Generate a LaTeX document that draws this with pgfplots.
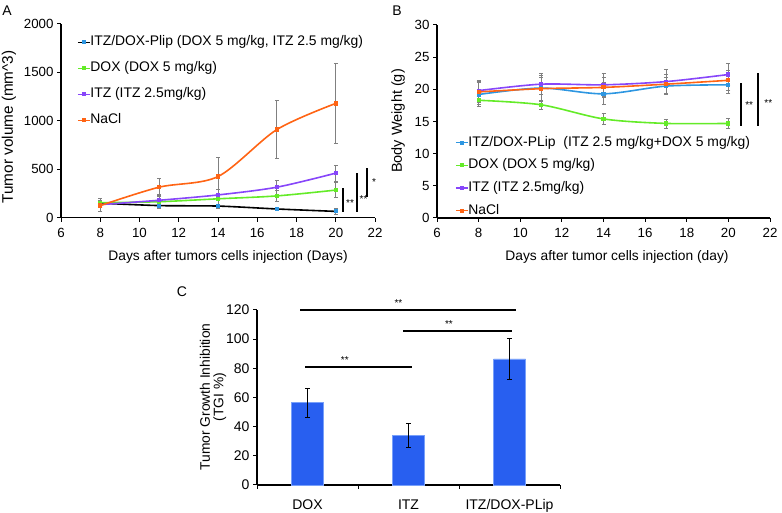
\documentclass[border=0pt]{standalone}
\usepackage{fontspec}
\setmainfont{Liberation Sans}
\usepackage{pgfplots}
\pgfplotsset{compat=1.18}
\definecolor{cOr}{RGB}{255,100,20}
\definecolor{cGr}{RGB}{100,235,40}
\definecolor{cPu}{RGB}{135,70,250}
\definecolor{cBl}{RGB}{45,150,225}
\definecolor{cBar}{RGB}{40,95,240}
\definecolor{cBarE}{RGB}{120,160,250}

\tikzset{sig/.style={line width=2.8pt, black}}
\pgfplotsset{
 base/.style={scale only axis, axis lines*=left, axis line style={line width=1.2pt},
   tick style={black, line width=1pt}, tick align=outside, major tick length=4pt,
   /pgf/number format/assume math mode=true,
   /pgf/number format/1000 sep={},
   ticklabel style={font=\fontsize{13.3}{15}\selectfont},
   xticklabel style={yshift=-3pt},
   clip=false},
 ser/.style={smooth, line width=1.6pt, mark=square*, mark size=1.3pt,
   error bars/y dir=both, error bars/y explicit,
   error bars/error bar style={gray, line width=0.8pt, solid},
   error bars/error mark options={gray, rotate=90, mark size=2pt, line width=0.8pt}},
 leg/.style={legend cell align=left,
   legend image code/.code={\draw[mark repeat=2, mark phase=2, line width=1.2pt, ##1] plot coordinates {(0pt,0pt) (6pt,0pt) (12pt,0pt)};},
   legend style={draw=none, fill=none, inner sep=0pt, font=\fontsize{13.9}{15}\selectfont,
     nodes={inner sep=0pt, text height=10pt, text depth=3pt},
     /tikz/every even column/.append style={column sep=2pt}}},
}

\begin{document}
\begin{tikzpicture}
\path[use as bounding box] (0pt,0pt) rectangle (782pt,513pt);

% ---------------- Panel A ----------------
\begin{axis}[base, leg, at={(61pt,295.3pt)}, anchor=south west,
  width=314pt, height=193.7pt,
  xmin=6, xmax=22, xtick={6,8,...,22},
  ymin=0, ymax=2000, ytick={0,500,...,2000},
  legend style={at={(rel axis cs:0,1)}, anchor=north west, xshift=16pt, yshift=-11.5pt,
    row sep=13pt}]
\addplot[ser, black, mark options={cBl, fill=cBl}] table[x=d, y=v, y error=e] {
d v e
8 150 45
11 125 25
14 120 20
17 90 15
20 65 30
};
\addlegendentry{ITZ/DOX-Plip (DOX 5 mg/kg, ITZ 2.5 mg/kg)}
\addplot[ser, cGr, mark options={cGr, fill=cGr}] table[x=d, y=v, y error=e] {
d v e
8 155 40
11 165 70
14 195 60
17 225 60
20 285 75
};
\addlegendentry{DOX (DOX 5 mg/kg)}
\addplot[ser, cPu, mark options={cPu, fill=cPu}] table[x=d, y=v, y error=e] {
d v e
8 135 30
11 180 60
14 235 60
17 315 75
20 460 85
};
\addlegendentry{ITZ (ITZ 2.5mg/kg)}
\addplot[ser, cOr, mark options={cOr, fill=cOr}] table[x=d, y=v, y error=e] {
d v e
8 125 55
11 315 90
14 425 200
17 910 300
20 1180 410
};
\addlegendentry{NaCl}
\draw[sig] (axis cs:20.37,59) -- (axis cs:20.37,307);
\draw[sig] (axis cs:21.08,59) -- (axis cs:21.08,462);
\draw[sig] (axis cs:21.59,214) -- (axis cs:21.59,513);
\node[font=\fontsize{10}{10}\selectfont] at (axis cs:20.73,150) {**};
\node[font=\fontsize{10}{10}\selectfont] at (axis cs:21.42,190) {**};
\node[font=\fontsize{10}{10}\selectfont] at (axis cs:21.95,365) {*};
\end{axis}

% ---------------- Panel B ----------------
\begin{axis}[base, leg, at={(437pt,295pt)}, anchor=south west,
  width=333pt, height=193pt,
  xmin=6, xmax=22, xtick={6,8,...,22},
  ymin=0, ymax=30, ytick={0,5,...,30},
  legend style={at={(rel axis cs:0,1)}, anchor=north west, xshift=18pt, yshift=-111pt,
    row sep=9.7pt}]
\addplot[ser, cBl, mark options={cBl, fill=cBl}] table[x=d, y=v, y error=e] {
d v e
8 19.2 1.8
11 20.2 2.0
14 19.3 1.7
17 20.5 1.3
20 20.7 1.4
};
\addlegendentry{ITZ/DOX-PLip~~(ITZ 2.5 mg/kg+DOX 5 mg/kg)}
\addplot[ser, cGr, mark options={cGr, fill=cGr}] table[x=d, y=v, y error=e] {
d v e
8 18.3 0.6
11 17.6 0.7
14 15.4 0.8
17 14.7 0.7
20 14.7 0.8
};
\addlegendentry{DOX (DOX 5 mg/kg)}
\addplot[ser, cPu, mark options={cPu, fill=cPu}] table[x=d, y=v, y error=e] {
d v e
8 19.8 1.6
11 20.8 1.6
14 20.7 1.8
17 21.2 1.9
20 22.3 1.7
};
\addlegendentry{ITZ (ITZ 2.5mg/kg)}
\addplot[ser, cOr, mark options={cOr, fill=cOr}] table[x=d, y=v, y error=e] {
d v e
8 19.6 1.6
11 20.1 1.8
14 20.3 1.5
17 20.8 1.5
20 21.4 1.5
};
\addlegendentry{NaCl}
\draw[sig] (axis cs:20.61,14.3) -- (axis cs:20.61,21.0);
\draw[sig] (axis cs:21.42,14.3) -- (axis cs:21.42,22.5);
\node[font=\fontsize{10}{10}\selectfont] at (axis cs:21.0,17.6) {**};
\node[font=\fontsize{10}{10}\selectfont] at (axis cs:21.92,17.9) {**};
\end{axis}

% ---------------- Panel C ----------------
\begin{axis}[base, at={(257pt,28pt)}, anchor=south west,
  width=303pt, height=175pt,
  ticklabel style={font=\fontsize{14}{16}\selectfont},
  xmin=-0.5, xmax=2.5, xtick={-0.5,0.5,1.5,2.5}, xticklabels={},
  extra x ticks={0,1,2}, extra x tick labels={DOX,ITZ,ITZ/DOX-PLip},
  extra x tick style={major tick length=0pt, xticklabel style={yshift=-8pt}},
  ymin=0, ymax=120, ytick={0,20,...,120}]
\addplot[ybar, bar width=32pt, fill=cBar, draw=cBarE, line width=0.6pt,
  error bars/y dir=both, error bars/y explicit,
  error bars/error bar style={black, line width=0.8pt},
  error bars/error mark options={black, rotate=90, mark size=2.5pt, line width=0.8pt}]
  coordinates {(0,56.5) +- (0,10) (1,34) +- (0,8) (2,86.5) +- (0,14)};
\draw[sig, line width=2.4pt] (axis cs:-0.07,120) -- (axis cs:2.06,120);
\draw[sig, line width=2.4pt] (axis cs:0.95,105.6) -- (axis cs:2.02,105.6);
\draw[sig, line width=2.4pt] (axis cs:-0.02,81) -- (axis cs:1.03,81);
\node[font=\fontsize{10}{10}\selectfont] at (axis cs:0.9,125) {**};
\node[font=\fontsize{10}{10}\selectfont] at (axis cs:1.4,110.5) {**};
\node[font=\fontsize{10}{10}\selectfont] at (axis cs:0.37,86) {**};
\end{axis}

% ---------------- labels ----------------
\node[font=\fontsize{14}{14}\selectfont] at (7pt,502pt) {A};
\node[font=\fontsize{14}{14}\selectfont] at (397pt,502pt) {B};
\node[font=\fontsize{14}{14}\selectfont] at (182pt,221pt) {C};
\node[rotate=90, font=\fontsize{15.3}{16}\selectfont] at (9pt,386pt) {Tumor volume (mm\textasciicircum 3)};
\node[font=\fontsize{13.8}{15}\selectfont] at (228pt,256pt) {Days after tumors cells injection (Days)};
\node[rotate=90, font=\fontsize{14.5}{16}\selectfont] at (398pt,392pt) {Body Weight (g)};
\node[font=\fontsize{13.8}{15}\selectfont] at (617pt,256pt) {Days after tumor cells injection (day)};
\node[rotate=90, align=center, font=\fontsize{13.8}{13.5}\selectfont] at (213pt,116pt) {Tumor Growth Inhibition\\(TGI \%)};
\end{tikzpicture}
\end{document}
